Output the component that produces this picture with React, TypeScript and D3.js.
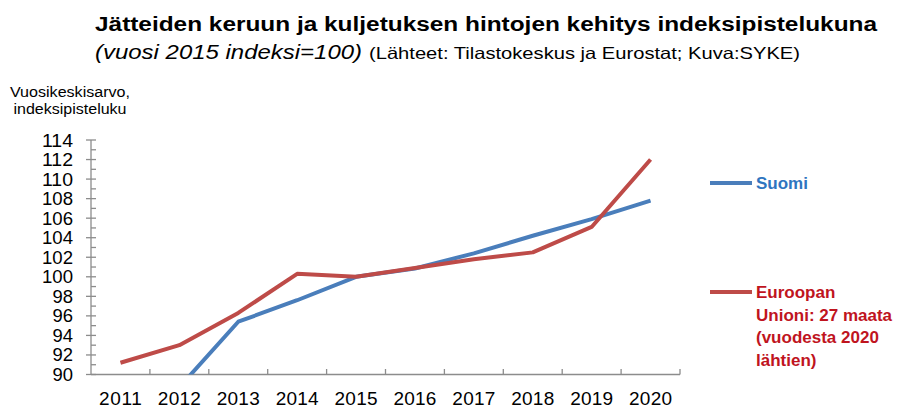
import React from "react";
import * as d3 from "d3";

const years = ["2011", "2012", "2013", "2014", "2015", "2016", "2017", "2018", "2019", "2020"];
const suomi = [null, 88.7, 95.4, 97.6, 100.0, 100.85, 102.4, 104.2, 105.9, 107.8];
const eu = [91.2, 93.0, 96.3, 100.3, 100.0, 100.9, 101.8, 102.5, 105.1, 112.0];
const yTicks = [90, 92, 94, 96, 98, 100, 102, 104, 106, 108, 110, 112, 114];
const yMinor = [91, 93, 95, 97, 99, 101, 103, 105, 107, 109, 111, 113];

const W = 919, H = 409;
const x = d3.scaleBand().domain(years).range([91, 680]);
const y = d3.scaleLinear().domain([90, 114]).range([374.5, 140]);
const axisColor = "#8c8c8c";
const blue = "#4A7EBB";
const red = "#BE4B48";

function path(vals: (number | null)[]) {
  const pts = years.map((yr, i) => [x(yr)! + x.bandwidth() / 2, vals[i]] as [number, number | null]);
  const line = d3.line<[number, number | null]>()
    .defined(d => d[1] !== null)
    .x(d => d[0])
    .y(d => y(d[1] as number));
  return line(pts) || "";
}

export default function App() {
  const font = "'Liberation Sans', Arial, sans-serif";
  return (
    <svg width={W} height={H} style={{ position: "absolute", left: 0, top: 0, background: "#fff" }} fontFamily={font}>
      <defs>
        <clipPath id="plot"><rect x={91} y={130} width={600} height={244.5} /></clipPath>
      </defs>
      <text x={95} y={31} fontSize={20} fontWeight="bold" fill="#000" textLength={782} lengthAdjust="spacingAndGlyphs">Jätteiden keruun ja kuljetuksen hintojen kehitys indeksipistelukuna</text>
      <text x={95} y={59} fontSize={20} fontStyle="italic" fill="#000" textLength={267} lengthAdjust="spacingAndGlyphs">(vuosi 2015 indeksi=100)</text>
      <text x={369} y={59} fontSize={16.5} fill="#000" textLength={431} lengthAdjust="spacingAndGlyphs">(Lähteet: Tilastokeskus ja Eurostat; Kuva:SYKE)</text>
      <text x={70} y={97} fontSize={14} textAnchor="middle" fill="#000" textLength={120} lengthAdjust="spacingAndGlyphs">Vuosikeskisarvo,</text>
      <text x={70} y={114} fontSize={14} textAnchor="middle" fill="#000" textLength={113} lengthAdjust="spacingAndGlyphs">indeksipisteluku</text>

      {/* y axis */}
      <line x1={91} x2={91} y1={140} y2={374.5} stroke={axisColor} strokeWidth={1.3} />
      {yTicks.map(t => (
        <g key={t}>
          <line x1={86} x2={96} y1={y(t)} y2={y(t)} stroke={axisColor} strokeWidth={1.3} />
          <text x={73} y={y(t) + 6.5} fontSize={18.5} textAnchor="end" fill="#000" lengthAdjust="spacingAndGlyphs" textLength={t >= 100 ? 31 : 20.5}>{t}</text>
        </g>
      ))}
      {yMinor.map(t => (
        <line key={t} x1={91} x2={96} y1={y(t)} y2={y(t)} stroke={axisColor} strokeWidth={1.3} />
      ))}
      {/* x axis */}
      <line x1={91} x2={680} y1={374.5} y2={374.5} stroke={axisColor} strokeWidth={1.3} />
      {years.map(yr => (
        <g key={yr}>
          <line x1={x(yr)! + x.bandwidth()} x2={x(yr)! + x.bandwidth()} y1={374.5} y2={369} stroke={axisColor} strokeWidth={1.3} />
          <text x={x(yr)! + x.bandwidth() / 2} y={405} fontSize={19} textAnchor="middle" fill="#000" textLength={43} lengthAdjust="spacing">{yr}</text>
        </g>
      ))}

      <g clipPath="url(#plot)">
        <path d={path(suomi)} fill="none" stroke={blue} strokeWidth={4} strokeLinejoin="round" />
        <path d={path(eu)} fill="none" stroke={red} strokeWidth={4} strokeLinejoin="round" />
      </g>

      {/* legend */}
      <line x1={710} x2={752} y1={183} y2={183} stroke={blue} strokeWidth={4} />
      <text x={756} y={189} fontSize={17} fontWeight="bold" fill="#2F75C0">Suomi</text>
      <line x1={710} x2={752} y1={292} y2={292} stroke={red} strokeWidth={4} />
      <g fontSize={17} fontWeight="bold" fill="#C0141E">
        <text x={756} y={298}>Euroopan</text>
        <text x={756} y={321}>Unioni: 27 maata</text>
        <text x={756} y={343}>(vuodesta 2020</text>
        <text x={756} y={366}>lähtien)</text>
      </g>
    </svg>
  );
}
